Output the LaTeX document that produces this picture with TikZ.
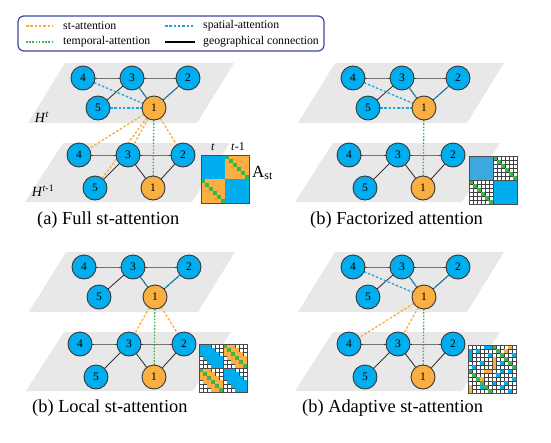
\documentclass[tikz,border=0pt]{standalone}
\usepackage{fontspec}
\setmainfont{Liberation Serif}
\usepackage{tikz-network}
\usetikzlibrary{backgrounds}

\definecolor{nodeblue}{RGB}{0,174,239}
\definecolor{lightblue}{RGB}{60,168,222}
\definecolor{nodeorange}{RGB}{250,176,64}
\definecolor{attblue}{RGB}{30,165,225}
\definecolor{attorange}{RGB}{248,172,60}
\definecolor{attgreen}{RGB}{60,180,75}
\definecolor{planegray}{RGB}{232,232,232}
\definecolor{legendnavy}{RGB}{62,72,160}
\definecolor{geogray}{RGB}{55,55,55}

\tikzset{
  layerplane/.style={fill=planegray},
  stedge/.style={dash pattern=on 2.5pt off 1.8pt},
  spedge/.style={dash pattern=on 2.5pt off 1.8pt},
  tpedge/.style={dash pattern=on 1.6pt off 1.6pt},
  captiontext/.style={anchor=west,inner sep=0pt,font=\rmfamily\fontsize{18.4}{20}\selectfont},
  legendtext/.style={anchor=west,inner sep=0pt,font=\rmfamily\fontsize{11.8}{13}\selectfont},
  matframe/.style={draw=black!70,line width=0.6pt},
  matgrid/.style={draw=black!75,line width=0.3pt}
}

% the two graph layers H^t and H^{t-1} of one panel
\newcommand{\stlayers}[1]{%
  \begin{scope}[on background layer]
    \fill[layerplane] (65,-63) -- (234,-63) -- (197,-123) -- (28,-123) -- cycle;
    \fill[layerplane] (63,-143) -- (230,-143) -- (192,-202) -- (25,-202) -- cycle;
  \end{scope}
  \Vertex[x=83,y=-78,label=4]{#1T4}
  \Vertex[x=132,y=-78,label=3]{#1T3}
  \Vertex[x=188,y=-78,label=2]{#1T2}
  \Vertex[x=98,y=-108,label=5]{#1T5}
  \Vertex[x=154,y=-108,label=1,color=nodeorange]{#1T1}
  \Vertex[x=79,y=-155,label=4]{#1B4}
  \Vertex[x=128,y=-155,label=3]{#1B3}
  \Vertex[x=183,y=-155,label=2]{#1B2}
  \Vertex[x=95,y=-188,label=5]{#1B5}
  \Vertex[x=153,y=-188,label=1,color=nodeorange]{#1B1}
  \Edge(#1T4)(#1T3)
  \Edge(#1T3)(#1T2)
  \Edge(#1T5)(#1T3)
  \Edge(#1T3)(#1T1)
  \Edge(#1T2)(#1T1)
  \Edge[color=attblue,lw=1.3,style={spedge}](#1T3)(#1T1)
  \Edge[color=attblue,lw=1.3,style={spedge}](#1T2)(#1T1)
  \Edge(#1B4)(#1B3)
  \Edge(#1B3)(#1B2)
  \Edge(#1B5)(#1B3)
  \Edge(#1B3)(#1B1)
  \Edge(#1B2)(#1B1)
  \Edge[color=attgreen,lw=1.3,style={tpedge}](#1T1)(#1B1)
}

\begin{document}
\begin{tikzpicture}[x=1pt,y=1pt,font=\rmfamily]
  \SetDefaultUnit{pt}
  \SetVertexStyle[MinSize=24pt,LineWidth=0.9pt,LineColor=geogray,FillColor=nodeblue,TextFont={\rmfamily\fontsize{11.5}{11.5}\selectfont}]
  \SetEdgeStyle[LineWidth=0.9pt,Color=geogray]
  \useasboundingbox (0,0) rectangle (551,-442);

  % legend
  \draw[legendnavy,line width=1.2pt,rounded corners=6pt] (18,-16) rectangle (324,-51);
  \draw[attorange,line width=1.3pt,stedge] (26,-26) -- (53,-26);
  \node[legendtext] (legst) at (63,-26) {st-attention};
  \draw[attblue,line width=1.3pt,spedge] (165,-26) -- (195,-26);
  \node[legendtext] (legsp) at (203,-26) {spatial-attention};
  \draw[attgreen,line width=1.3pt,tpedge] (26,-42) -- (53,-42);
  \node[legendtext] (legtp) at (63,-42) {temporal-attention};
  \draw[black,line width=1.2pt] (165,-42) -- (195,-42);
  \node[legendtext] (leggeo) at (203,-42) {geographical connection};

  % (a) full st-attention
  \begin{scope}
    \stlayers{a}
    \Edge[color=attblue,lw=1.3,style={spedge}](aT4)(aT1)
    \Edge[color=attblue,lw=1.3,style={spedge}](aT5)(aT1)
    \Edge[color=attorange,lw=1.3,style={stedge}](aT1)(aB4)
    \Edge[color=attorange,lw=1.3,style={stedge}](aT1)(aB3)
    \Edge[color=attorange,lw=1.3,style={stedge}](aT1)(aB5)
    \Edge[color=attorange,lw=1.3,style={stedge}](aT1)(aB2)
    \node[font=\rmfamily\fontsize{14}{14}\selectfont] (hta) at (42,-117) {\textit{H}\textsuperscript{\textit{t}}};
    \node[font=\rmfamily\fontsize{14}{14}\selectfont] (htb) at (43,-191) {\textit{H}\textsuperscript{\textit{t}-1}};
    \begin{scope}[shift={(201,-155)}]
      \fill[nodeblue] (0,0) rectangle (24,-24);
      \fill[nodeblue] (24,-24) rectangle (48,-48);
      \fill[nodeorange] (24,0) rectangle (48,-24);
      \fill[nodeorange] (0,-24) rectangle (24,-48);
      \foreach \i in {0,...,5} {
        \fill[attgreen] (24+4*\i,-4*\i) rectangle ++(4,-4);
        \fill[attgreen] (4*\i,-24-4*\i) rectangle ++(4,-4);
      }
      \draw[matframe] (0,0) rectangle (48,-48);
    \end{scope}
    \node[font=\rmfamily\fontsize{12}{12}\selectfont] (colt) at (213,-147) {\textit{t}};
    \node[font=\rmfamily\fontsize{12}{12}\selectfont] (coltb) at (238,-147) {\textit{t}-1};
    \node[anchor=west,inner sep=0pt,font=\rmfamily\fontsize{17}{17}\selectfont] (ast) at (252,-173) {A\textsubscript{st}};
    \node[captiontext] (capa) at (37,-220) {(a) Full st-attention};
  \end{scope}

  % (b) factorized attention
  \begin{scope}[shift={(270,0)}]
    \stlayers{b}
    \Edge[color=attblue,lw=1.3,style={spedge}](bT4)(bT1)
    \Edge[color=attblue,lw=1.3,style={spedge}](bT5)(bT1)
    \begin{scope}[shift={(199,-156)}]
      \fill[white] (0,0) rectangle (48,-48);
      \draw[matgrid] (0,0) grid[step=4pt] (48,-48);
      \foreach \i in {0,...,5} {
        \fill[attgreen] (24+4*\i,-4*\i) rectangle ++(4,-4);
        \fill[attgreen] (4*\i,-24-4*\i) rectangle ++(4,-4);
      }
      \fill[lightblue] (0,0) rectangle (24,-24);
      \fill[nodeblue] (24,-24) rectangle (48,-48);
      \draw[matframe] (0,0) rectangle (48,-48) (24,0) -- (24,-48) (0,-24) -- (48,-24);
    \end{scope}
    \node[captiontext] (capb) at (40,-220) {(b) Factorized attention};
  \end{scope}

  % (c) local st-attention
  \begin{scope}[shift={(1,-189)}]
    \stlayers{c}
    \Edge[color=attorange,lw=1.3,style={stedge}](cT1)(cB3)
    \Edge[color=attorange,lw=1.3,style={stedge}](cT1)(cB2)
    \begin{scope}[shift={(198,-155)}]
      \fill[white] (0,0) rectangle (48,-48);
      \draw[matgrid] (0,0) grid[step=4pt] (48,-48);
      \foreach \r in {0,...,11} {
        \foreach \c in {0,...,11} {
          \pgfmathtruncatemacro{\cellgap}{abs(\r-\c)}
          \pgfmathtruncatemacro{\crossgap}{abs(\cellgap-6)}
          \pgfmathtruncatemacro{\crossblk}{(\r<6)!=(\c<6)}
          \ifnum\crossblk=0
            \ifnum\cellgap<3 \fill[nodeblue] (4*\c,-4*\r) rectangle ++(4,-4); \fi
          \else
            \ifnum\crossgap=0 \fill[attgreen] (4*\c,-4*\r) rectangle ++(4,-4);
            \else\ifnum\crossgap<3 \fill[nodeorange] (4*\c,-4*\r) rectangle ++(4,-4); \fi\fi
          \fi
        }
      }
      \draw[matframe] (0,0) rectangle (48,-48) (24,0) -- (24,-48) (0,-24) -- (48,-24);
    \end{scope}
    \node[captiontext] (capc) at (31,-219) {(b) Local st-attention};
  \end{scope}

  % (d) adaptive st-attention
  \begin{scope}[shift={(270,-189)}]
    \stlayers{d}
    \Edge[color=attblue,lw=1.3,style={spedge}](dT4)(dT1)
    \Edge[color=attorange,lw=1.3,style={stedge}](dT1)(dB4)
    \Edge[color=attorange,lw=1.3,style={stedge}](dT1)(dB3)
    \begin{scope}[shift={(198,-156)}]
      \fill[white] (0,0) rectangle (48,-48);
      \draw[matgrid] (0,0) grid[step=4pt] (48,-48);
      \foreach \r/\c in {0/4,0/5,1/0,1/2,2/0,2/5,3/0,4/3,5/1,2/11,6/8,6/10,7/7,8/11,9/6,9/9,10/8,11/10,4/8,10/3}
        \fill[nodeblue] (4*\c,-4*\r) rectangle ++(4,-4);
      \foreach \r/\c in {0/10,3/6,4/6,5/6,6/4,6/5,10/0,11/0,8/3,1/9}
        \fill[nodeorange] (4*\c,-4*\r) rectangle ++(4,-4);
      \foreach \r/\c in {0/6,1/7,2/8,3/9,4/10,5/11,6/0,7/1,8/2,9/3,10/4,11/5}
        \fill[attgreen] (4*\c,-4*\r) rectangle ++(4,-4);
      \draw[matframe] (0,0) rectangle (48,-48) (24,0) -- (24,-48) (0,-24) -- (48,-24);
    \end{scope}
    \node[captiontext] (capd) at (32,-219) {(b) Adaptive st-attention};
  \end{scope}
\end{tikzpicture}
\end{document}
